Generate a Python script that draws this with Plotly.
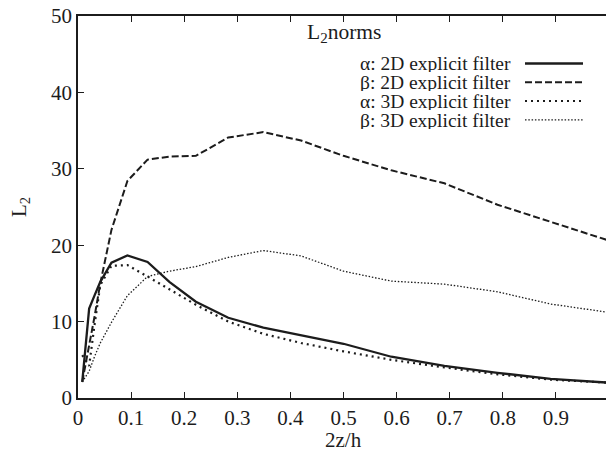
import plotly.graph_objects as go

# ---- data ----
z = [0.008, 0.021, 0.031, 0.042, 0.063, 0.093, 0.131, 0.172, 0.222, 0.283,
     0.349, 0.42, 0.5, 0.59, 0.69, 0.79, 0.89, 1.0]
alpha_2d = [2.1, 11.7, 13.4, 15.2, 17.7, 18.65, 17.8, 15.2, 12.6, 10.5,
            9.2, 8.2, 7.1, 5.4, 4.2, 3.3, 2.5, 2.0]
beta_2d = [2.1, 6.8, 10.6, 15.0, 22.0, 28.4, 31.2, 31.6, 31.7, 34.1,
           34.8, 33.7, 31.7, 29.8, 28.1, 25.3, 23.1, 20.6]
alpha_3d = [5.6, 4.2, 9.5, 14.8, 17.3, 17.4, 15.9, 14.2, 12.2, 10.0,
            8.4, 7.2, 6.1, 5.0, 4.0, 3.1, 2.4, 2.0]
beta_3d = [2.1, 3.5, 5.4, 7.2, 9.9, 13.4, 15.9, 16.6, 17.2, 18.4,
           19.3, 18.6, 16.6, 15.3, 14.9, 13.9, 12.3, 11.2]

x_ticks = [0, 0.1, 0.2, 0.3, 0.4, 0.5, 0.6, 0.7, 0.8, 0.9]
x_tick_labels = ["0", "0.1", "0.2", "0.3", "0.4", "0.5", "0.6", "0.7", "0.8", "0.9"]
y_ticks = [0, 10, 20, 30, 40, 50]
y_tick_labels = ["0", "10", "20", "30", "40", "50"]

series_names = ["α: 2D explicit filter", "β: 2D explicit filter",
                "α: 3D explicit filter", "β: 3D explicit filter"]
series_values = [alpha_2d, beta_2d, alpha_3d, beta_3d]

# ---- styles ----
INK = "#1c1c1c"
styles = [
    dict(color=INK, width=2.3, dash="solid"),
    dict(color=INK, width=2.0, dash="7px,3px"),
    dict(color=INK, width=2.2, dash="2px,4px"),
    dict(color=INK, width=1.3, dash="1.5px,1.8px"),
]
FONT = "Liberation Serif, Times New Roman, serif"

W, H = 606, 451
L, R, T, B = 78, 0, 16, 53
pw, ph = W - L - R, H - T - B

fig = go.Figure()
for name, vals, st in zip(series_names, series_values, styles):
    fig.add_trace(go.Scatter(x=z, y=vals, mode="lines", name=name,
                             line=st, showlegend=False))

def px_x(p):
    return (p - L) / pw

def px_y(p):
    return (H - B - p) / ph

annotations = []
shapes = []
# legend title
annotations.append(dict(text="L<sub>2</sub>norms", xref="paper", yref="paper",
                        x=px_x(305), y=px_y(33), xanchor="left", yanchor="middle",
                        showarrow=False, height=22,
                        font=dict(family=FONT, size=21.5, color=INK)))
row_y = [63.5, 82.3, 101, 119.8]
for name, st, ry in zip(series_names, styles, row_y):
    annotations.append(dict(text=name, xref="paper", yref="paper",
                            x=px_x(513), y=px_y(ry), xanchor="right", yanchor="middle",
                            showarrow=False, height=18,
                            font=dict(family=FONT, size=19.5, color=INK)))
    shapes.append(dict(type="line", xref="paper", yref="paper",
                       x0=px_x(525), x1=px_x(583), y0=px_y(ry), y1=px_y(ry),
                       line=st))

# axis titles
annotations.append(dict(text="2z/h", xref="paper", yref="paper", x=px_x(343), y=0,
                        yshift=-(439.5 - (H - B)), xanchor="center", yanchor="middle",
                        showarrow=False, height=18,
                        font=dict(family=FONT, size=21, color=INK)))
annotations.append(dict(text="L<sub>2</sub>", xref="paper", yref="paper", x=0, y=0.5,
                        xshift=-58, xanchor="center", yanchor="middle", textangle=-90,
                        showarrow=False, font=dict(family=FONT, size=21, color=INK)))

fig.update_layout(
    width=W, height=H,
    margin=dict(l=L, r=R, t=T, b=B, pad=0),
    paper_bgcolor="white", plot_bgcolor="white",
    font=dict(family=FONT, size=21, color=INK),
    annotations=annotations, shapes=shapes,
)
fig.update_xaxes(range=[0, pw / 531.0], tickvals=x_ticks, ticktext=x_tick_labels,
                 ticks="inside", ticklen=6, tickwidth=1.3, tickcolor=INK,
                 showline=True, linecolor=INK, linewidth=1.5, mirror="ticks",
                 showgrid=False, zeroline=False,
                 tickfont=dict(family=FONT, size=21, color=INK))
fig.update_yaxes(range=[0, 50], tickvals=y_ticks, ticktext=y_tick_labels,
                 ticks="inside", ticklen=6, tickwidth=1.3, tickcolor=INK,
                 showline=True, linecolor=INK, linewidth=1.5, mirror=False,
                 showgrid=False, zeroline=False,
                 tickfont=dict(family=FONT, size=21, color=INK))

fig.write_html("out.html")
